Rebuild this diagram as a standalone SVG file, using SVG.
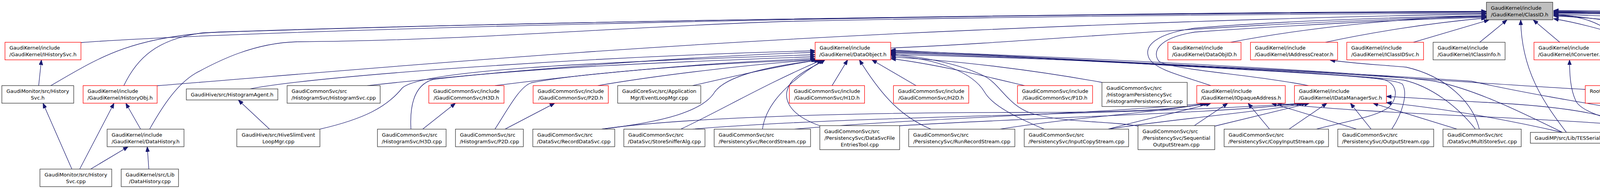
<svg xmlns="http://www.w3.org/2000/svg" width="6050" height="484" viewBox="0 0 6050 484">
<style>
rect{stroke-width:1.3}
.r{fill:#fff;stroke:#ff0000}
.k{fill:#fff;stroke:#333}
.g{fill:#bfbfbf;stroke:#333}
text{font-family:"DejaVu Sans","Noto Sans",sans-serif;font-size:12.9px;fill:#000}
.m{text-anchor:middle}
#edges path{fill:none;stroke:#191970;stroke-width:1.3;marker-end:url(#ah)}
</style>
<defs>
<marker id="ah" viewBox="0 0 13 10" refX="13" refY="5" markerWidth="13" markerHeight="10" markerUnits="userSpaceOnUse" orient="auto"><path d="M0,0L13,5L0,10z" fill="#191970" stroke="#191970" stroke-width="1"/></marker>
</defs>
<rect x="0" y="0" width="6050" height="484" fill="#fff" stroke="none"/>
<g id="edges">
<path d="M207.3,109 C700,72 2600,32 3805,29"/>
<path d="M130,219.3 C250,150 330,95 560,82 C1500,50 3000,34 3805,31"/>
<path d="M317,219.3 C350,150 400,100 520,84 C1500,50 3000,33 3805,30"/>
<path d="M402.3,219.5 C900,180 1600,115 2500,77 C3000,55 3500,40 3805,36"/>
<path d="M383,330.7 C420,265 455,215 500,188 C560,155 650,110 760,107 C1200,104 1600,68 2010,55 C2600,42 3300,36 3805,34"/>
<path d="M2280.3,123 C2700,105 3100,60 3805,42"/>
<path d="M3150,108.3 C3350,70 3600,45 3805,40"/>
<path d="M3393,108.3 C3500,85 3650,60 3805,46"/>
<path d="M3618,108.3 L3812,51"/>
<path d="M3788,108.3 L3858,51"/>
<path d="M3993,108.3 L3925,51"/>
<path d="M4010,339 C3950,260 3895,180 3893,51"/>
<path d="M4205,108.3 C4120,80 4040,58 3977,48"/>
<path d="M4472,108.3 C4300,70 4100,45 3977,41"/>
<path d="M4690,108.3 C4550,70 4200,40 3977,37"/>
<path d="M4900,108.3 C4700,60 4300,35 3977,34"/>
<path d="M5172,108.3 C4900,70 4400,38 3977,32"/>
<path d="M5385,108.3 C5100,70 4500,35 3977,31"/>
<path d="M5574.3,100 C5200,65 4600,35 3977,30"/>
<path d="M5820,108.3 C5500,65 4600,33 3977,29"/>
<path d="M4641.7,350 C5400,325 5850,270 5965,185 C6030,140 6025,105 5990,95 C5880,58 4800,30 3977,27"/>
<path d="M4154,219.3 C4160,150 4140,95 4100,67 C4060,45 4020,40 3977,39"/>
<path d="M4558.3,219.3 C4500,195 4440,170 4420,140 C4395,105 4300,70 3977,36"/>
<path d="M3100,219.3 C3030,195 2960,180 2942,150 C2925,115 2965,85 3060,72 C3300,52 3600,44 3805,40"/>
<path d="M3350,219.3 C3200,190 3010,180 2968,158 C2948,135 2962,97 3060,82 C3350,62 3600,50 3805,44"/>
<path d="M640,227.7 C800,195 1500,145 2086.7,130"/>
<path d="M940,219.3 C1300,180 1750,145 2086.7,134"/>
<path d="M819,330.7 C930,305 990,275 1030,225 C1080,180 1500,160 2086.7,140"/>
<path d="M1052,330.7 C1048,260 1065,215 1110,203 C1400,170 1750,158 2086.7,145"/>
<path d="M1267,219.3 C1500,190 1800,160 2086.7,150"/>
<path d="M1267,330.7 C1300,280 1330,222 1360,212 C1500,185 1850,160 2090,153.3"/>
<path d="M1530,219.3 C1700,190 1950,162 2093,153.3"/>
<path d="M1773,219.3 C1900,190 2000,168 2097,153.3"/>
<path d="M1540,330.7 C1700,312 1800,285 1830,235 C1860,195 1960,170 2100,153.3"/>
<path d="M1743,330.7 C1850,280 1960,215 2104,153.3"/>
<path d="M1952,330.7 C1960,270 2010,215 2108,153.3"/>
<path d="M2098.7,322 C2015,292 1995,245 2030,205 C2060,178 2090,168 2112,153.3"/>
<path d="M2130,219.3 L2170,153.3"/>
<path d="M2383,330.7 C2310,300 2260,250 2200,153.3"/>
<path d="M2345,219.3 L2232,153.3"/>
<path d="M2623,219.3 C2520,195 2400,165 2280.3,150"/>
<path d="M2821,211 C2650,180 2450,155 2280.3,146"/>
<path d="M2673,330.7 C2600,300 2540,270 2520,235 C2490,185 2400,150 2280.3,142"/>
<path d="M2913.3,323 C2850,310 2720,315 2640,290 C2580,270 2560,215 2520,195 C2450,160 2350,145 2280.3,138"/>
<path d="M3370,330.7 C3450,310 3520,300 3555,275 C3580,250 3580,215 3540,203 C3400,185 2700,150 2280.3,136"/>
<path d="M3563,330.7 C3590,290 3605,240 3590,215 C3560,198 3400,190 3000,168 C2700,150 2450,138 2280.3,134"/>
<path d="M3777,330.7 C3730,270 3660,220 3593,205 C3300,180 2700,148 2280.3,132"/>
<path d="M4000,339 C3900,290 3780,230 3673,208 C3500,185 2800,148 2280.3,130"/>
<path d="M4058.3,229 C3800,215 3500,190 3000,165 C2700,150 2450,136 2280.3,128"/>
<path d="M4480,339 C4300,300 4000,260 3767,208 C3500,190 2800,150 2280.3,140"/>
<path d="M1540,330.7 C1750,300 2200,288 2600,288 C2900,288 3020,280 3085,264.3"/>
<path d="M2033,330.7 C2400,300 2800,292 3090,264.3"/>
<path d="M2560,330.7 C2750,300 2950,290 3095,264.3"/>
<path d="M2837,330.7 C2950,300 3030,285 3100,264.3"/>
<path d="M3057,322 L3143,264.3"/>
<path d="M3250,330.7 L3195,264.3"/>
<path d="M3473,330.7 L3255,264.3"/>
<path d="M4182.3,322 C3900,298 3500,292 3268,264.3"/>
<path d="M1772,330.7 C2200,295 2900,295 3333,264.3"/>
<path d="M2303,322 C2700,298 3100,292 3338,264.3"/>
<path d="M2837,330.7 C3000,305 3200,290 3345,264.3"/>
<path d="M3109.7,323 L3352,264.3"/>
<path d="M3300,330.7 L3397,264.3"/>
<path d="M3510,330.7 L3457,264.3"/>
<path d="M3730,330.7 L3515,264.3"/>
<path d="M4182.3,322 C4100,290 4000,272 3800,262 C3700,257 3620,250 3549.3,247"/>
<path d="M4000,339 C3850,305 3700,278 3549.3,263"/>
<path d="M3787,330.7 C3770,260 3700,195 3600,172 C3520,165 3460,162 3405,154"/>
<path d="M4182.3,322 C4100,300 4050,285 4035,260 C4020,230 4018,190 4018,153.3"/>
<path d="M4480,339 C4400,310 4300,285 4233,264.3"/>
<path d="M4510,339 L4313,153.3"/>
<path d="M4660,219.3 L4728,153.3"/>
<path d="M690,330.7 L610,256"/>
<path d="M1082,330.7 L1166,264.3"/>
<path d="M1293,330.7 L1420,264.3"/>
<path d="M184,433 L110,264.3"/>
<path d="M204,433 L292,264.3"/>
<path d="M232,433 L328,375.7"/>
<path d="M381,433 L377,375.7"/>
<path d="M360,330.7 L322,264.3"/>
<path d="M99,219.3 L106,153.3"/>
</g>
<g id="n_classid"><rect class="g" x="3805.3" y="5.7" width="169.7" height="45"/><text x="3816.8" y="24.7">GaudiKernel/include</text><text class="m" x="3890.2" y="41.7">/GaudiKernel/ClassID.h</text></g>
<g id="n_ihistorysvc"><rect class="r" x="12.7" y="108.3" width="194.6" height="45"/><text x="24.2" y="127.3">GaudiKernel/include</text><text class="m" x="110" y="144.3">/GaudiKernel/IHistorySvc.h</text></g>
<g id="n_dataobject"><rect class="r" x="2086.7" y="108.3" width="193.6" height="45"/><text x="2098.2" y="127.3">GaudiKernel/include</text><text class="m" x="2183.5" y="144.3">/GaudiKernel/DataObject.h</text></g>
<g id="n_dataobjid"><rect class="r" x="2989.7" y="108.3" width="187.3" height="45"/><text x="3001.2" y="127.3">GaudiKernel/include</text><text class="m" x="3083.3" y="144.3">/GaudiKernel/DataObjID.h</text></g>
<g id="n_iaddresscreator"><rect class="r" x="3201.3" y="108.3" width="223" height="45"/><text x="3212.8" y="127.3">GaudiKernel/include</text><text class="m" x="3312.8" y="144.3">/GaudiKernel/IAddressCreator.h</text></g>
<g id="n_iclassidsvc"><rect class="r" x="3447.7" y="108.3" width="196.6" height="45"/><text x="3459.2" y="127.3">GaudiKernel/include</text><text class="m" x="3546" y="144.3">/GaudiKernel/IClassIDSvc.h</text></g>
<g id="n_iclassinfo"><rect class="k" x="3668.7" y="108.3" width="184.3" height="45"/><text x="3680.2" y="127.3">GaudiKernel/include</text><text class="m" x="3760.8" y="144.3">/GaudiKernel/IClassInfo.h</text></g>
<g id="n_iconverter"><rect class="r" x="3927" y="108.3" width="187.7" height="45"/><text x="3938.5" y="127.3">GaudiKernel/include</text><text class="m" x="4020.8" y="144.3">/GaudiKernel/IConverter.h</text></g>
<g id="n_rootdataconnection"><rect class="r" x="4189" y="108.3" width="186.7" height="45"/><text x="4200.5" y="127.3">RootCnv/include/RootCnv</text><text class="m" x="4282.3" y="144.3">/RootDataConnection.h</text></g>
<g id="n_intuplesvc"><rect class="r" x="4450.3" y="108.3" width="192" height="45"/><text x="4461.8" y="127.3">GaudiKernel/include</text><text class="m" x="4546.3" y="144.3">/GaudiKernel/INTupleSvc.h</text></g>
<g id="n_ifilemgr"><rect class="r" x="4666" y="108.3" width="171.3" height="45"/><text x="4677.5" y="127.3">GaudiKernel/include</text><text class="m" x="4751.7" y="144.3">/GaudiKernel/IFileMgr.h</text></g>
<g id="n_keyedobjectmanager"><rect class="r" x="4861" y="108.3" width="258.3" height="45"/><text x="4872.5" y="127.3">GaudiKernel/include</text><text class="m" x="4990.2" y="144.3">/GaudiKernel/KeyedObjectManager.h</text></g>
<g id="n_objectlist"><rect class="r" x="5142.7" y="108.3" width="185.6" height="45"/><text x="5154.2" y="127.3">GaudiKernel/include</text><text class="m" x="5235.5" y="144.3">/GaudiKernel/ObjectList.h</text></g>
<g id="n_objectvector"><rect class="r" x="5351.7" y="108.3" width="200" height="45"/><text x="5363.2" y="127.3">GaudiKernel/include</text><text class="m" x="5451.7" y="144.3">/GaudiKernel/ObjectVector.h</text></g>
<g id="n_sharedobjectscontainer"><rect class="r" x="5574.3" y="99.7" width="192.7" height="62"/><text x="5585.8" y="118.7">GaudiKernel/include</text><text class="m" x="5670.7" y="135.7">/GaudiKernel/SharedObjects</text><text class="m" x="5670.7" y="152.7">Container.h</text></g>
<g id="n_cpucrunchsvc"><rect class="r" x="5790.3" y="108.3" width="194" height="45"/><text x="5801.8" y="127.3">GaudiSvc/src/CPUCrunchSvc</text><text class="m" x="5887.3" y="144.3">/CPUCrunchSvc.h</text></g>
<g id="n_historysvc_h"><rect class="k" x="4.7" y="219.3" width="184" height="45"/><text class="m" x="96.7" y="238.3">GaudiMonitor/src/History</text><text class="m" x="96.7" y="255.3">Svc.h</text></g>
<g id="n_historyobj"><rect class="r" x="212.7" y="219.3" width="189.6" height="45"/><text x="224.2" y="238.3">GaudiKernel/include</text><text class="m" x="307.5" y="255.3">/GaudiKernel/HistoryObj.h</text></g>
<g id="n_histogramagent"><rect class="k" x="477" y="227.7" width="234.3" height="28.3"/><text class="m" x="594.2" y="246.8">GaudiHive/src/HistogramAgent.h</text></g>
<g id="n_histogramsvc_cpp"><rect class="k" x="735" y="219.3" width="238.3" height="45"/><text x="746.5" y="238.3">GaudiCommonSvc/src</text><text class="m" x="854.2" y="255.3">/HistogramSvc/HistogramSvc.cpp</text></g>
<g id="n_h3d_h"><rect class="r" x="1097.7" y="219.3" width="192.6" height="45"/><text x="1109.2" y="238.3">GaudiCommonSvc/include</text><text class="m" x="1194" y="255.3">/GaudiCommonSvc/H3D.h</text></g>
<g id="n_p2d_h"><rect class="r" x="1364.7" y="219.3" width="192.6" height="45"/><text x="1376.2" y="238.3">GaudiCommonSvc/include</text><text class="m" x="1461" y="255.3">/GaudiCommonSvc/P2D.h</text></g>
<g id="n_eventloopmgr"><rect class="k" x="1581.3" y="219.3" width="212.7" height="45"/><text class="m" x="1687.7" y="238.3">GaudiCoreSvc/src/Application</text><text class="m" x="1687.7" y="255.3">Mgr/EventLoopMgr.cpp</text></g>
<g id="n_h1d_h"><rect class="r" x="2020.7" y="219.3" width="192.6" height="45"/><text x="2032.2" y="238.3">GaudiCommonSvc/include</text><text class="m" x="2117" y="255.3">/GaudiCommonSvc/H1D.h</text></g>
<g id="n_h2d_h"><rect class="r" x="2287.3" y="219.3" width="192.7" height="45"/><text x="2298.8" y="238.3">GaudiCommonSvc/include</text><text class="m" x="2383.7" y="255.3">/GaudiCommonSvc/H2D.h</text></g>
<g id="n_p1d_h"><rect class="r" x="2604.7" y="219.3" width="192.3" height="45"/><text x="2616.2" y="238.3">GaudiCommonSvc/include</text><text class="m" x="2700.9" y="255.3">/GaudiCommonSvc/P1D.h</text></g>
<g id="n_histpers"><rect class="k" x="2821" y="211" width="218.3" height="61.7"/><text x="2832.5" y="229.8">GaudiCommonSvc/src</text><text x="2832.5" y="246.8">/HistogramPersistencySvc</text><text class="m" x="2930.2" y="263.8">/HistogramPersistencySvc.cpp</text></g>
<g id="n_iopaqueaddress"><rect class="r" x="3063.7" y="219.3" width="226.6" height="45"/><text x="3075.2" y="238.3">GaudiKernel/include</text><text class="m" x="3177" y="255.3">/GaudiKernel/IOpaqueAddress.h</text></g>
<g id="n_idatamanagersvc"><rect class="r" x="3313.7" y="219.3" width="235.6" height="45"/><text x="3325.2" y="238.3">GaudiKernel/include</text><text class="m" x="3431.5" y="255.3">/GaudiKernel/IDataManagerSvc.h</text></g>
<g id="n_rootcnvsvc"><rect class="r" x="4058.3" y="219.3" width="186.7" height="45"/><text x="4069.8" y="238.3">RootCnv/include/RootCnv</text><text class="m" x="4151.7" y="255.3">/RootCnvSvc.h</text></g>
<g id="n_filemgr_h"><rect class="r" x="4558.3" y="219.3" width="157.4" height="45"/><text x="4569.8" y="238.3">GaudiSvc/src/FileMgr</text><text class="m" x="4637" y="255.3">/FileMgr.h</text></g>
<g id="n_datahistory_h"><rect class="k" x="274.3" y="330.7" width="196.7" height="45"/><text x="285.8" y="349.7">GaudiKernel/include</text><text class="m" x="372.7" y="366.7">/GaudiKernel/DataHistory.h</text></g>
<g id="n_hiveslim"><rect class="k" x="606.3" y="330.7" width="212.7" height="45"/><text class="m" x="712.7" y="349.7">GaudiHive/src/HiveSlimEvent</text><text class="m" x="712.7" y="366.7">LoopMgr.cpp</text></g>
<g id="n_h3d_cpp"><rect class="k" x="966.3" y="330.7" width="175.7" height="45"/><text x="977.8" y="349.7">GaudiCommonSvc/src</text><text class="m" x="1054.2" y="366.7">/HistogramSvc/H3D.cpp</text></g>
<g id="n_p2d_cpp"><rect class="k" x="1166" y="330.7" width="173.7" height="45"/><text x="1177.5" y="349.7">GaudiCommonSvc/src</text><text class="m" x="1252.9" y="366.7">/HistogramSvc/P2D.cpp</text></g>
<g id="n_recorddatasvc"><rect class="k" x="1364" y="330.7" width="209.7" height="45"/><text x="1375.5" y="349.7">GaudiCommonSvc/src</text><text class="m" x="1468.9" y="366.7">/DataSvc/RecordDataSvc.cpp</text></g>
<g id="n_storesnifferalg"><rect class="k" x="1597" y="330.7" width="207.7" height="45"/><text x="1608.5" y="349.7">GaudiCommonSvc/src</text><text class="m" x="1700.9" y="366.7">/DataSvc/StoreSnifferAlg.cpp</text></g>
<g id="n_recordstream"><rect class="k" x="1828.3" y="330.7" width="246.7" height="45"/><text x="1839.8" y="349.7">GaudiCommonSvc/src</text><text class="m" x="1951.7" y="366.7">/PersistencySvc/RecordStream.cpp</text></g>
<g id="n_datasvcfileentriestool"><rect class="k" x="2098.7" y="321.7" width="204.3" height="61.6"/><text x="2110.2" y="340.5">GaudiCommonSvc/src</text><text class="m" x="2200.9" y="357.5">/PersistencySvc/DataSvcFile</text><text class="m" x="2200.9" y="374.5">EntriesTool.cpp</text></g>
<g id="n_runrecordstream"><rect class="k" x="2326.3" y="330.7" width="271.7" height="45"/><text x="2337.8" y="349.7">GaudiCommonSvc/src</text><text class="m" x="2462.2" y="366.7">/PersistencySvc/RunRecordStream.cpp</text></g>
<g id="n_inputcopystream"><rect class="k" x="2622" y="330.7" width="267.3" height="45"/><text x="2633.5" y="349.7">GaudiCommonSvc/src</text><text class="m" x="2755.7" y="366.7">/PersistencySvc/InputCopyStream.cpp</text></g>
<g id="n_sequentialoutputstream"><rect class="k" x="2913.3" y="321.7" width="196.4" height="61.6"/><text x="2924.8" y="340.5">GaudiCommonSvc/src</text><text class="m" x="3011.5" y="357.5">/PersistencySvc/Sequential</text><text class="m" x="3011.5" y="374.5">OutputStream.cpp</text></g>
<g id="n_copyinputstream"><rect class="k" x="3133.7" y="330.7" width="267.3" height="45"/><text x="3145.2" y="349.7">GaudiCommonSvc/src</text><text class="m" x="3267.4" y="366.7">/PersistencySvc/CopyInputStream.cpp</text></g>
<g id="n_outputstream"><rect class="k" x="3424.7" y="330.7" width="245.6" height="45"/><text x="3436.2" y="349.7">GaudiCommonSvc/src</text><text class="m" x="3547.5" y="366.7">/PersistencySvc/OutputStream.cpp</text></g>
<g id="n_multistoresvc"><rect class="k" x="3694" y="330.7" width="200.3" height="45"/><text x="3705.5" y="349.7">GaudiCommonSvc/src</text><text class="m" x="3794.2" y="366.7">/DataSvc/MultiStoreSvc.cpp</text></g>
<g id="n_tesserializer"><rect class="k" x="3917.7" y="339" width="240.3" height="27.7"/><text class="m" x="4037.9" y="357.8">GaudiMP/src/Lib/TESSerializer.cpp</text></g>
<g id="n_persistencysvc"><rect class="k" x="4182.3" y="321.7" width="202.4" height="61.6"/><text x="4193.8" y="340.5">GaudiCommonSvc/src</text><text class="m" x="4283.5" y="357.5">/PersistencySvc/Persistency</text><text class="m" x="4283.5" y="374.5">Svc.cpp</text></g>
<g id="n_rootevtselector"><rect class="k" x="4408.3" y="339" width="233.4" height="27.7"/><text class="m" x="4525" y="357.8">RootCnv/src/RootEvtSelector.cpp</text></g>
<g id="n_historysvc_cpp"><rect class="k" x="102.3" y="433" width="183.7" height="45"/><text class="m" x="194.2" y="452">GaudiMonitor/src/History</text><text class="m" x="194.2" y="469">Svc.cpp</text></g>
<g id="n_datahistory_cpp"><rect class="k" x="310.3" y="433" width="146.7" height="45"/><text x="321.8" y="452">GaudiKernel/src/Lib</text><text class="m" x="383.7" y="469">/DataHistory.cpp</text></g>
</svg>
